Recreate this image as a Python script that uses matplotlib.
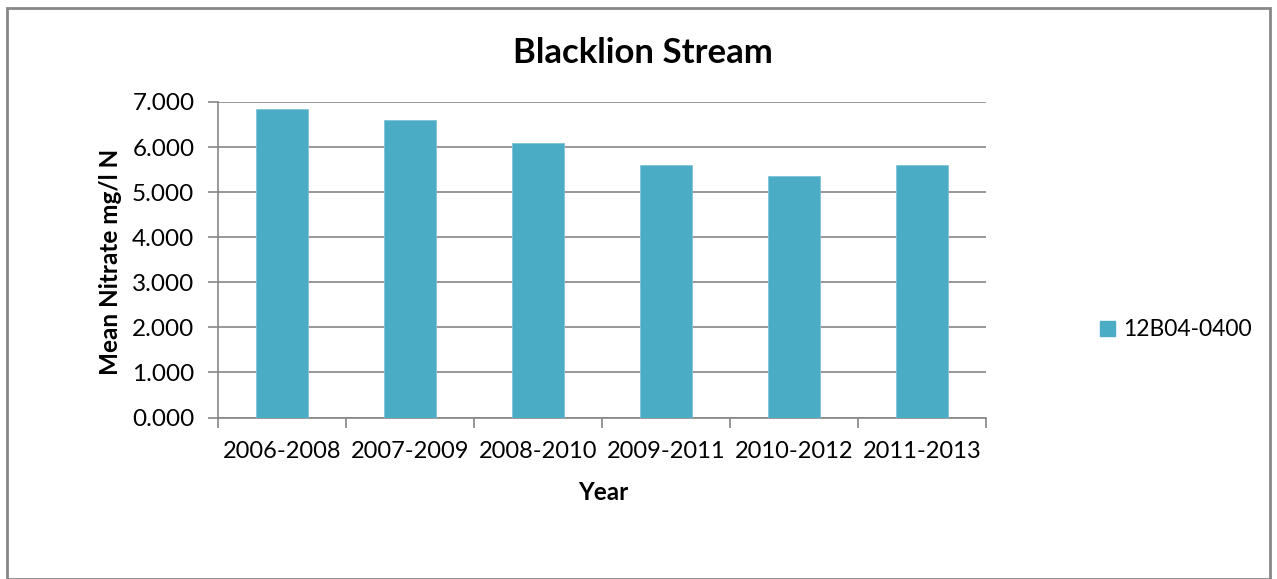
import matplotlib
matplotlib.use("Agg")
import matplotlib.pyplot as plt
from matplotlib.patches import Rectangle, Patch

categories = ["2006-2008", "2007-2009", "2008-2010", "2009-2011", "2010-2012", "2011-2013"]
values = [6.84, 6.59, 6.08, 5.61, 5.36, 5.60]
series_name = "12B04-0400"
yticks = [0, 1, 2, 3, 4, 5, 6, 7]

plt.rcParams['font.family'] = ['Lato', 'DejaVu Sans']

W, H = 1277, 579
fig = plt.figure(figsize=(W/100, H/100), dpi=100)
ax = fig.add_axes([218/W, 1-417.5/H, (986-218)/W, (417.5-102)/H])

bar_color = "#4BACC6"
grid_color = "#868686"
x = list(range(len(categories)))
ax.bar(x, values, width=0.4, color=bar_color, edgecolor="#7ec4d6", linewidth=0.6, zorder=3)
ax.set_xlim(-0.5, len(categories) - 0.5)
ax.set_ylim(0, 7)
ax.set_yticks(yticks)
ax.set_yticklabels([f"{v:.3f}" for v in yticks], fontsize=17.5)
ax.set_xticks(x)
ax.set_xticklabels(categories, fontsize=17)
ax.set_xticks([i - 0.5 for i in range(len(categories) + 1)], minor=True)
ax.tick_params(axis='x', which='major', length=0, pad=17)
ax.tick_params(axis='x', which='minor', length=7, color=grid_color, width=1.2)
ax.tick_params(axis='y', length=7, color=grid_color, width=1.2, pad=10)
ax.yaxis.grid(True, color=grid_color, linewidth=1.2, zorder=0)
for s in ['top', 'right']:
    ax.spines[s].set_visible(False)
for s in ['left', 'bottom']:
    ax.spines[s].set_color(grid_color)
    ax.spines[s].set_linewidth(1.2)

fig.text(643/W, 1-53/H, "Blacklion Stream", ha='center', va='center', fontsize=25, fontweight='bold')
fig.text(603/W, 1-493/H, "Year", ha='center', va='center', fontsize=17.5, fontweight='bold')
fig.text(110/W, 1-262/H, "Mean Nitrate mg/l N", ha='center', va='center', fontsize=17.5, fontweight='bold', rotation=90)

fig.legend(handles=[Patch(facecolor=bar_color, edgecolor=bar_color)], labels=[series_name],
           loc='center left', bbox_to_anchor=(1100/W, 1-330/H), frameon=False, fontsize=16.5,
           handlelength=0.65, handleheight=0.65, handletextpad=0.35, borderpad=0, borderaxespad=0)

fig.patches.append(Rectangle((7/W, 0), (1270-7)/W, 1-8/H, transform=fig.transFigure,
                             fill=False, edgecolor="#888888", linewidth=2))

fig.savefig("out.png", dpi=100)
